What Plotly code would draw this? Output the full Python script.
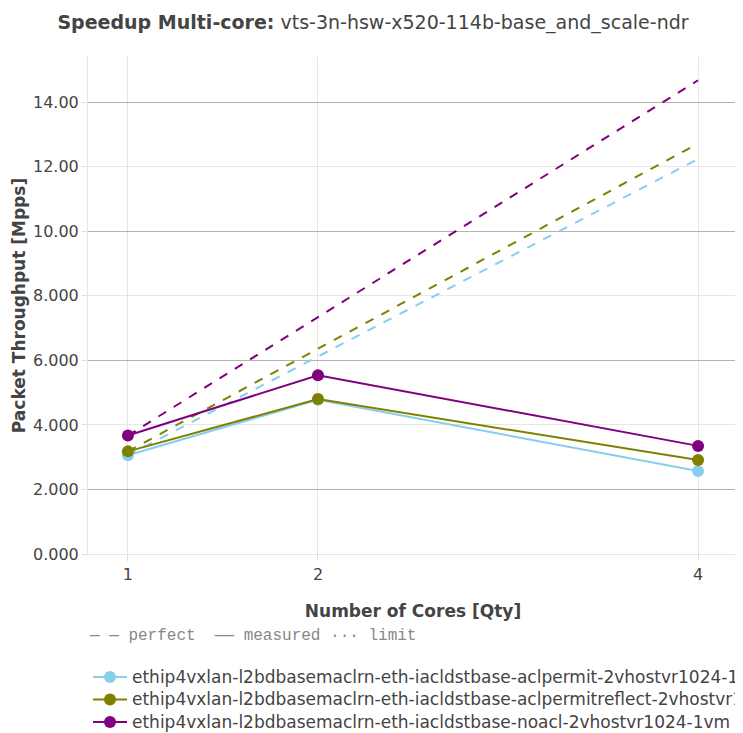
import plotly.graph_objects as go

cores = [1, 2, 4]
names = [
    "ethip4vxlan-l2bdbasemaclrn-eth-iacldstbase-aclpermit-2vhostvr1024-1vm",
    "ethip4vxlan-l2bdbasemaclrn-eth-iacldstbase-aclpermitreflect-2vhostvr1024-1vm",
    "ethip4vxlan-l2bdbasemaclrn-eth-iacldstbase-noacl-2vhostvr1024-1vm",
]
colors = ["#87CEEB", "#808000", "#800080"]
measured = [
    [3.06, 4.78, 2.57],
    [3.18, 4.80, 2.91],
    [3.67, 5.54, 3.35],
]
y_ticks = [0, 2, 4, 6, 8, 10, 12, 14]
y_dark_ticks = [2, 6, 10, 14]

FONT = "DejaVu Sans"
fig = go.Figure()
for name, color, vals in zip(names, colors, measured):
    perfect = [vals[0] * c for c in cores]
    fig.add_trace(go.Scatter(
        x=cores, y=perfect, mode="lines",
        line=dict(color=color, width=2, dash="dash"),
        showlegend=False, hoverinfo="skip",
    ))
for name, color, vals in zip(names, colors, measured):
    fig.add_trace(go.Scatter(
        x=cores, y=vals, mode="lines+markers",
        name='<span style="font-size:17px">' + name + '</span>',
        line=dict(color=color, width=2),
        marker=dict(color=color, size=12),
    ))

# invisible trace on overlay axis to draw darker grid lines
fig.add_trace(go.Scatter(x=[cores[0]], y=[y_ticks[0]], yaxis="y2",
                         mode="markers", marker=dict(opacity=0),
                         showlegend=False, hoverinfo="skip"))

yrange = [0, 15.4]
fig.update_layout(
    width=730, height=725,
    margin=dict(l=80, r=0, t=49, b=179, autoexpand=False),
    paper_bgcolor="white", plot_bgcolor="white",
    font=dict(family=FONT, color="#444", size=16),
    title=dict(
        text="<b>Speedup Multi-core:</b> vts-3n-hsw-x520-114b-base_and_scale-ndr",
        x=0.5, xanchor="center", y=0.99, yanchor="top",
        font=dict(family=FONT, size=19, color="#444"),
    ),
    xaxis=dict(
        title=dict(text="<b>Number of Cores [Qty]</b>", font=dict(size=17), standoff=21),
        range=[0.79, 4.21], tickvals=cores, ticktext=[str(c) for c in cores],
        showgrid=True, gridcolor="rgb(230,230,230)", gridwidth=1,
        showline=True, linecolor="rgb(230,230,230)", linewidth=1,
        ticks="outside", ticklen=6, tickcolor="rgb(220,220,220)",
        zeroline=False, tickfont=dict(size=16),
    ),
    yaxis=dict(
        title=dict(text="<b>Packet Throughput [Mpps]</b>", font=dict(size=17), standoff=3),
        range=yrange, tickvals=y_ticks, tickformat=".4r",
        showgrid=True, gridcolor="rgb(230,230,230)", gridwidth=1,
        showline=True, linecolor="rgb(230,230,230)", linewidth=1,
        ticks="outside", ticklen=5, tickcolor="rgb(220,220,220)",
        zeroline=False, tickfont=dict(size=16),
    ),
    yaxis2=dict(
        overlaying="y", range=yrange, tickvals=y_dark_ticks,
        showticklabels=False, showgrid=True, gridcolor="rgb(178,178,178)",
        gridwidth=1, zeroline=False, showline=False, ticks="",
        layer="below traces",
    ),
    legend=dict(
        orientation="v", x=0, xanchor="left", y=-0.131, yanchor="top",
        font=dict(family=FONT, size=15, color="#444"),
        title=dict(text="— — perfect  —— measured ··· limit<br> ",
                   font=dict(family="Liberation Mono", size=16, color="#888"),
                   side="top"),
        tracegroupgap=0, itemwidth=34,
    ),
    showlegend=True,
)
fig.write_html("out.html")
